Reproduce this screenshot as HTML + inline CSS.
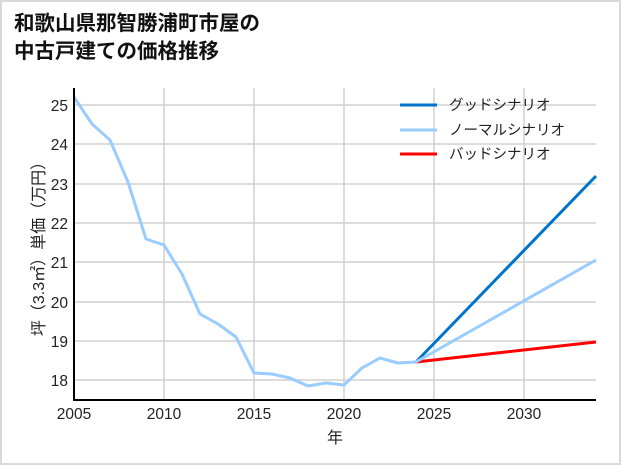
<!DOCTYPE html>
<html><head><meta charset="utf-8"><style>
body{margin:0;background:#fff;}
.wrap{position:relative;width:617px;height:461px;border:2px solid #d9d9d9;background:#fff;overflow:hidden;font-family:"Liberation Sans","Noto Sans CJK JP",sans-serif;}
.t{position:absolute;left:12px;top:8px;font-size:20.5px;font-weight:bold;line-height:28px;color:#111;}
</style></head><body><div class="wrap">
<div class="t">和歌山県那智勝浦町市屋の<br>中古戸建ての価格推移</div>
<svg width="621" height="465" style="position:absolute;left:-2px;top:-2px" font-family="Liberation Sans Narrow,Liberation Sans,Noto Sans CJK JP,sans-serif">
<g stroke="#d0d0d0" stroke-width="1.5">
<line x1="164" y1="88" x2="164" y2="400"/><line x1="254" y1="88" x2="254" y2="400"/><line x1="344" y1="88" x2="344" y2="400"/><line x1="434" y1="88" x2="434" y2="400"/><line x1="524" y1="88" x2="524" y2="400"/>
<line x1="74" y1="380" x2="596" y2="380"/><line x1="74" y1="341" x2="596" y2="341"/><line x1="74" y1="302" x2="596" y2="302"/><line x1="74" y1="262" x2="596" y2="262"/><line x1="74" y1="223" x2="596" y2="223"/><line x1="74" y1="184" x2="596" y2="184"/><line x1="74" y1="144" x2="596" y2="144"/><line x1="74" y1="105" x2="596" y2="105"/>
</g>
<g fill="#222" font-size="15.5" text-anchor="end">
<text x="68" y="386">18</text><text x="68" y="347">19</text><text x="68" y="308">20</text><text x="68" y="268">21</text><text x="68" y="229">22</text><text x="68" y="190">23</text><text x="68" y="150">24</text><text x="68" y="111">25</text>
</g>
<g fill="#222" font-size="15.5" text-anchor="middle">
<text x="74" y="419">2005</text><text x="164" y="419">2010</text><text x="254" y="419">2015</text><text x="344" y="419">2020</text><text x="434" y="419">2025</text><text x="524" y="419">2030</text>
<text x="335" y="443" font-size="16">年</text>
</g>
<text transform="translate(44,245) rotate(-90)" text-anchor="middle" font-size="16" fill="#222">坪（3.3㎡）単価（万円）</text>
<polyline fill="none" stroke="#0074cc" stroke-width="3" points="416,362 596,176"/>
<polyline fill="none" stroke="#ff0000" stroke-width="3" points="416,362 596,342"/>
<polyline fill="none" stroke="#99ccff" stroke-width="3" stroke-linejoin="round" points="74,97 92,124 110,140 128,182 146,239 164,245 182,274 200,314 218,324 236,337 254,373 272,374 290,378 308,386 326,383 344,385 362,368 380,358 398,363 416,362 596,260"/>
<line x1="74" y1="88" x2="74" y2="400" stroke="#000" stroke-width="2"/>
<line x1="73" y1="400" x2="596" y2="400" stroke="#000" stroke-width="2"/>
<g stroke-width="3"><line x1="400" y1="105" x2="437" y2="105" stroke="#0074cc"/><line x1="400" y1="130" x2="437" y2="130" stroke="#99ccff"/><line x1="400" y1="154" x2="437" y2="154" stroke="#ff0000"/></g>
<g font-size="14.5" fill="#222"><text x="449" y="110">グッドシナリオ</text><text x="449" y="135">ノーマルシナリオ</text><text x="449" y="159">バッドシナリオ</text></g>
</svg></div></body></html>
